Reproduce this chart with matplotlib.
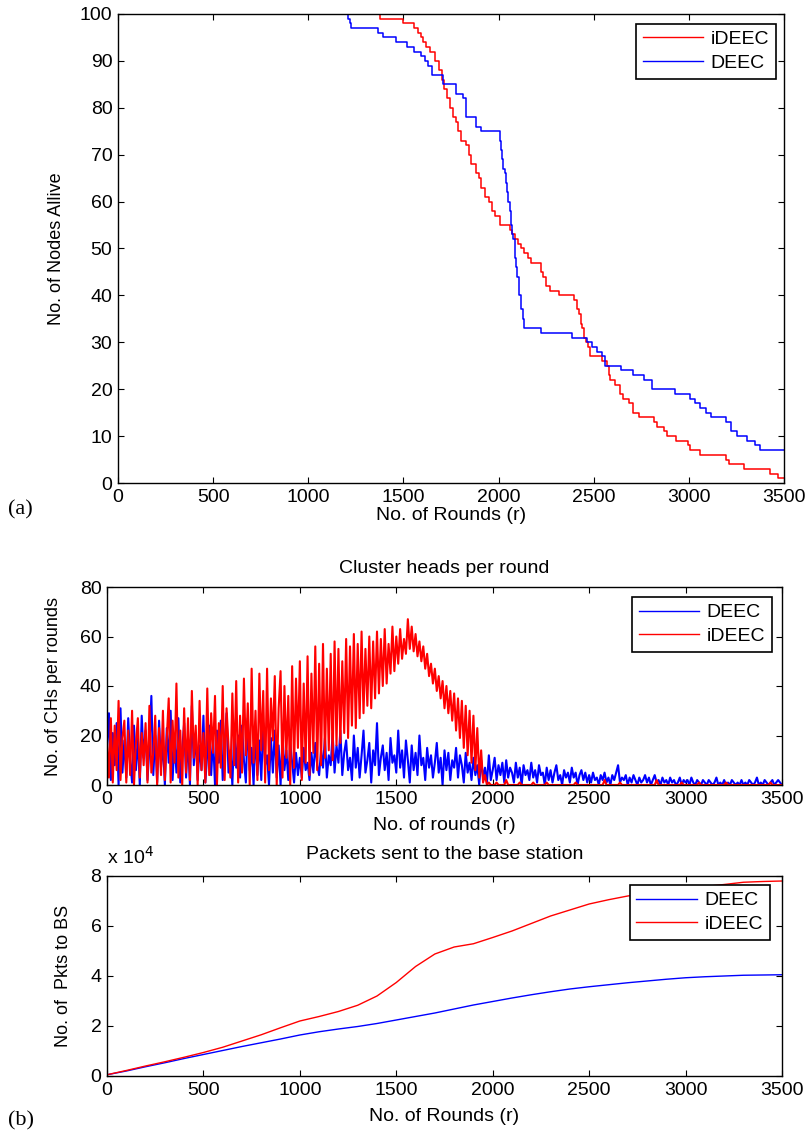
#!/usr/bin/env python3
"""DEEC vs iDEEC: nodes alive, cluster heads per round, packets to BS."""

import matplotlib
matplotlib.use("Agg")
import matplotlib.pyplot as plt
import numpy as np

plt.rcParams["font.family"] = ["Liberation Sans", "DejaVu Sans"]

RED = "#FF0000"
BLUE = "#0000FF"

# --------------------------------------------------------------------------- #
# (a) nodes alive (step data: round where the count changes, new count)
# --------------------------------------------------------------------------- #
alive_deec_r = [0, 1211, 1218, 1225, 1368, 1395, 1463, 1517, 1558, 1590, 1612,
                1630, 1652, 1707, 1774, 1815, 1829, 1883, 1910, 2005, 2012, 2018,
                2025, 2032, 2040, 2045, 2052, 2059, 2067, 2072, 2078, 2086, 2092,
                2099, 2108, 2118, 2127, 2135, 2221, 2384, 2465, 2492, 2519, 2546,
                2560, 2641, 2709, 2763, 2804, 2926, 3007, 3034, 3061, 3088, 3115,
                3197, 3224, 3251, 3305, 3346, 3373, 3500]
alive_deec_n = [100, 99, 98, 97, 96, 95, 94, 93, 92, 91, 90,
                89, 87, 85, 83, 82, 78, 76, 75, 73, 71, 69,
                67, 66, 64, 62, 60, 58, 55, 53, 52, 48, 46,
                44, 40, 37, 35, 33, 32, 31, 30, 29, 28, 27,
                25, 24, 23, 22, 20, 19, 18, 17, 16, 15, 14,
                13, 11, 10, 9, 8, 7, 7]

alive_ideec_r = [0, 1376, 1498, 1558, 1577, 1590, 1604, 1620, 1639, 1666, 1685,
                 1701, 1715, 1728, 1747, 1760, 1774, 1787, 1801, 1829, 1843, 1856,
                 1883, 1897, 1910, 1930, 1950, 1965, 1983, 2010, 2059, 2073, 2086,
                 2100, 2118, 2135, 2154, 2173, 2221, 2235, 2248, 2270, 2316, 2397,
                 2410, 2424, 2432, 2438, 2450, 2460, 2470, 2479, 2546, 2568, 2578,
                 2587, 2610, 2640, 2655, 2688, 2704, 2736, 2817, 2831, 2870, 2885,
                 2931, 2993, 3007, 3061, 3197, 3210, 3291, 3427, 3468, 3500]
alive_ideec_n = [100, 99, 98, 97, 96, 95, 94, 93, 92, 90, 88,
                 86, 84, 82, 80, 78, 77, 75, 73, 72, 70, 68,
                 66, 65, 63, 61, 60, 58, 57, 55, 54, 53, 52,
                 51, 50, 49, 48, 47, 45, 44, 42, 41, 40, 39,
                 37, 36, 34, 33, 31, 30, 29, 27, 26, 25, 23,
                 22, 21, 19, 18, 17, 15, 14, 13, 12, 11, 10,
                 9, 8, 7, 6, 5, 4, 3, 2, 1, 1]

# --------------------------------------------------------------------------- #
# (b) cluster heads per round, sampled every 10 rounds (0 .. 3500)
# --------------------------------------------------------------------------- #
ch_rounds = list(range(0, 3501, 10))
ch_deec = [
    16, 29, 2, 21, 8, 25, 0, 31, 5, 18,
    3, 27, 10, 1, 24, 6, 19, 0, 28, 11,
    22, 2, 15, 36, 4, 20, 1, 26, 7, 17,
    0, 23, 9, 30, 2, 18, 5, 27, 1, 14,
    25, 3, 19, 0, 32, 8, 21, 2, 16, 6,
    28, 1, 13, 24, 4, 19, 0, 22, 9, 26,
    2, 17, 29, 5, 14, 0, 23, 7, 20, 3,
    24, 10, 1, 27, 6, 15, 0, 21, 4, 18,
    2, 25, 8, 12, 0, 19, 5, 22, 3, 16,
    0, 20, 6, 14, 2, 17, 9, 1, 13, 4,
    11, 3, 15, 6, 9, 2, 13, 5, 17, 8,
    4, 14, 7, 19, 3, 12, 8, 21, 5, 16,
    9, 22, 4, 13, 18, 6, 11, 2, 20, 7,
    15, 3, 12, 22, 5, 10, 17, 1, 14, 8,
    25, 4, 11, 16, 6, 13, 2, 19, 9, 12,
    5, 22, 7, 14, 3, 18, 10, 1, 16, 6,
    13, 4, 20, 8, 11, 2, 15, 7, 12, 3,
    9, 17, 5, 11, 0, 14, 6, 13, 2, 10,
    7, 15, 3, 12, 8, 1, 13, 5, 9, 2,
    11, 4, 8, 0, 10, 3, 7, 1, 12, 2,
    6, 11, 2, 8, 4, 9, 1, 10, 3, 7,
    5, 1, 9, 3, 7, 0, 8, 4, 6, 2,
    9, 3, 6, 1, 8, 4, 5, 0, 7, 2,
    6, 1, 5, 8, 2, 4, 0, 6, 3, 5,
    1, 7, 3, 5, 0, 4, 6, 2, 5, 1,
    4, 1, 5, 2, 3, 0, 4, 2, 5, 1,
    3, 0, 4, 2, 5, 8, 1, 3, 2, 4,
    0, 3, 1, 4, 2, 0, 3, 1, 2, 4,
    1, 3, 0, 2, 4, 1, 2, 0, 3, 1,
    2, 0, 3, 1, 2, 0, 1, 3, 0, 2,
    1, 2, 0, 3, 1, 0, 2, 1, 0, 2,
    1, 0, 2, 1, 0, 1, 3, 0, 1, 0,
    2, 0, 1, 0, 2, 1, 0, 1, 0, 2,
    0, 1, 0, 2, 1, 0, 1, 3, 0, 1,
    0, 2, 1, 0, 1, 2, 0, 1, 2, 1,
    0,
]
ch_ideec = [
    18, 3, 27, 1, 24, 6, 34, 2, 19, 26,
    1, 22, 4, 30, 0, 17, 27, 3, 21, 8,
    25, 1, 32, 5, 13, 28, 0, 23, 4, 30,
    2, 19, 35, 1, 26, 9, 41, 3, 22, 0,
    31, 5, 27, 2, 38, 11, 24, 0, 34, 6,
    21, 1, 39, 4, 29, 13, 36, 0, 25, 7,
    40, 2, 31, 16, 3, 37, 8, 42, 1, 28,
    5, 43, 12, 33, 0, 47, 9, 30, 2, 45,
    14, 38, 1, 47, 6, 35, 18, 44, 0, 31,
    46, 3, 40, 11, 36, 0, 48, 7, 43, 15,
    50, 2, 41, 9, 52, 4, 45, 13, 56, 6,
    49, 8, 57, 11, 47, 14, 53, 10, 58, 16,
    55, 17, 50, 21, 59, 19, 56, 24, 61, 23,
    57, 27, 62, 29, 55, 32, 60, 31, 58, 35,
    62, 37, 59, 40, 63, 41, 57, 45, 64, 46,
    60, 49, 63, 51, 59, 53, 67, 55, 64, 54,
    61, 52, 58, 50, 56, 47, 53, 44, 49, 41,
    47, 38, 44, 35, 42, 31, 40, 29, 38, 26,
    37, 22, 35, 19, 34, 15, 32, 12, 30, 9,
    28, 6, 23, 3, 14, 1, 4, 0, 1, 0,
    0, 0, 1, 0, 0, 0, 0, 2, 0, 0,
    0, 0, 0, 0, 1, 0, 0, 0, 0, 0,
    0, 1, 0, 0, 0, 0, 0, 0, 1, 0,
    0, 0, 0, 0, 0, 0, 0, 0, 0, 0,
    0, 0, 0, 1, 0, 0, 0, 0, 0, 0,
    0, 0, 0, 0, 0, 0, 0, 0, 2, 0,
    0, 0, 0, 0, 0, 0, 1, 0, 0, 0,
    0, 0, 0, 0, 0, 0, 0, 0, 0, 0,
    0, 0, 0, 0, 0, 2, 0, 0, 0, 0,
    0, 0, 0, 0, 0, 0, 0, 0, 1, 0,
    0, 0, 0, 0, 0, 0, 0, 1, 0, 0,
    0, 0, 0, 0, 0, 0, 0, 0, 0, 0,
    0, 1, 0, 0, 0, 0, 0, 0, 0, 0,
    0, 0, 0, 0, 0, 0, 0, 0, 0, 0,
    0, 0, 0, 0, 1, 0, 0, 0, 0, 0,
    0,
]

# --------------------------------------------------------------------------- #
# packets sent to the base station, every 100 rounds
# --------------------------------------------------------------------------- #
pkt_rounds = list(range(0, 3501, 100))
pkt_deec = [500, 2000, 3700, 5300, 7000, 8600, 10200, 11800, 13300, 14800,
            16400, 17700, 18800, 19800, 21000, 22400, 23800, 25200, 26800, 28400,
            29800, 31200, 32500, 33700, 34800, 35700, 36500, 37300, 38000, 38700,
            39300, 39700, 40000, 40300, 40400, 40500]
pkt_ideec = [500, 2200, 4000, 5700, 7500, 9400, 11500, 14000, 16500, 19300,
             22000, 23800, 25800, 28300, 32000, 37400, 43800, 48800, 51600, 52900,
             55400, 58000, 61000, 64000, 66400, 68800, 70500, 72000, 73200, 74200,
             75000, 75800, 76600, 77500, 77800, 78000]


def style_axes(ax):
    ax.tick_params(direction="in", top=True, right=True, length=4, width=0.8,
                   labelsize=14, pad=4, colors="black")
    for sp in ax.spines.values():
        sp.set_linewidth(1.0)
        sp.set_color("black")


def add_legend(ax, handles, labels, anchor):
    leg = ax.legend(handles, labels, loc="upper right", bbox_to_anchor=anchor,
                    fontsize=14, handlelength=3.1, handletextpad=0.4,
                    borderpad=0.35, labelspacing=0.3, fancybox=False,
                    framealpha=1, edgecolor="black", borderaxespad=0)
    leg.get_frame().set_linewidth(1.2)
    for ln in leg.get_lines():
        ln.set_linewidth(1.0)
    return leg


fig = plt.figure(figsize=(8.07, 11.35), dpi=100)

# (a) ----------------------------------------------------------------------- #
ax1 = fig.add_axes([118 / 807, 1 - 483 / 1135, 666 / 807, 469 / 1135])
l_i, = ax1.plot(alive_ideec_r, alive_ideec_n, color=RED, lw=1.1, drawstyle="steps-post")
l_d, = ax1.plot(alive_deec_r, alive_deec_n, color=BLUE, lw=1.1, drawstyle="steps-post")
ax1.set_xlim(0, 3500)
ax1.set_ylim(0, 100)
ax1.set_xticks(range(0, 3501, 500))
ax1.set_yticks(range(0, 101, 10))
style_axes(ax1)
ax1.set_xlabel("No. of Rounds (r)", fontsize=14)
ax1.xaxis.set_label_coords(0.5, -0.052)
ax1.set_ylabel("No. of Nodes Allive", fontsize=13)
ax1.yaxis.set_label_coords(-0.079, 0.5)
add_legend(ax1, [l_i, l_d], ["iDEEC", "DEEC"], (0.988, 0.979))

# (b) cluster heads ---------------------------------------------------------- #
ax2 = fig.add_axes([107 / 807, 1 - 785 / 1135, 675 / 807, 198 / 1135])
c_d, = ax2.plot(ch_rounds, ch_deec, color=BLUE, lw=1.5)
c_i, = ax2.plot(ch_rounds, ch_ideec, color=RED, lw=1.5)
ax2.set_xlim(0, 3500)
ax2.set_ylim(0, 80)
ax2.set_xticks(range(0, 3501, 500))
ax2.set_yticks(range(0, 81, 20))
style_axes(ax2)
ax2.set_title("Cluster heads per round", fontsize=14, pad=10)
ax2.set_xlabel("No. of rounds (r)", fontsize=14)
ax2.xaxis.set_label_coords(0.5, -0.16)
ax2.set_ylabel("No. of CHs per rounds", fontsize=13)
ax2.yaxis.set_label_coords(-0.066, 0.5)
add_legend(ax2, [c_d, c_i], ["DEEC", "iDEEC"], (0.985, 0.95))

# packets ------------------------------------------------------------------- #
ax3 = fig.add_axes([107 / 807, 1 - 1076 / 1135, 675 / 807, 200 / 1135])
p_d, = ax3.plot(pkt_rounds, np.array(pkt_deec) / 1e4, color=BLUE, lw=1.0)
p_i, = ax3.plot(pkt_rounds, np.array(pkt_ideec) / 1e4, color=RED, lw=1.0)
ax3.set_xlim(0, 3500)
ax3.set_ylim(0, 8)
ax3.set_xticks(range(0, 3501, 500))
ax3.set_yticks(range(0, 9, 2))
style_axes(ax3)
ax3.set_title("Packets sent to the base station", fontsize=14, pad=12)
ax3.set_xlabel("No. of Rounds (r)", fontsize=14)
ax3.xaxis.set_label_coords(0.5, -0.16)
ax3.set_ylabel("No. of  Pkts to BS", fontsize=13)
ax3.yaxis.set_label_coords(-0.052, 0.5)
ax3.text(0.0, 1.04, r"x 10$^4$", transform=ax3.transAxes, fontsize=14,
         ha="left", va="bottom")
add_legend(ax3, [p_d, p_i], ["DEEC", "iDEEC"], (0.982, 0.955))

# panel tags
fig.text(8 / 807, 1 - 510 / 1135, "(a)", family="Liberation Serif", fontsize=16,
         ha="left", va="center")
fig.text(8 / 807, 1 - 1121 / 1135, "(b)", family="Liberation Serif", fontsize=16,
         ha="left", va="center")

fig.savefig("out.png", dpi=100)
